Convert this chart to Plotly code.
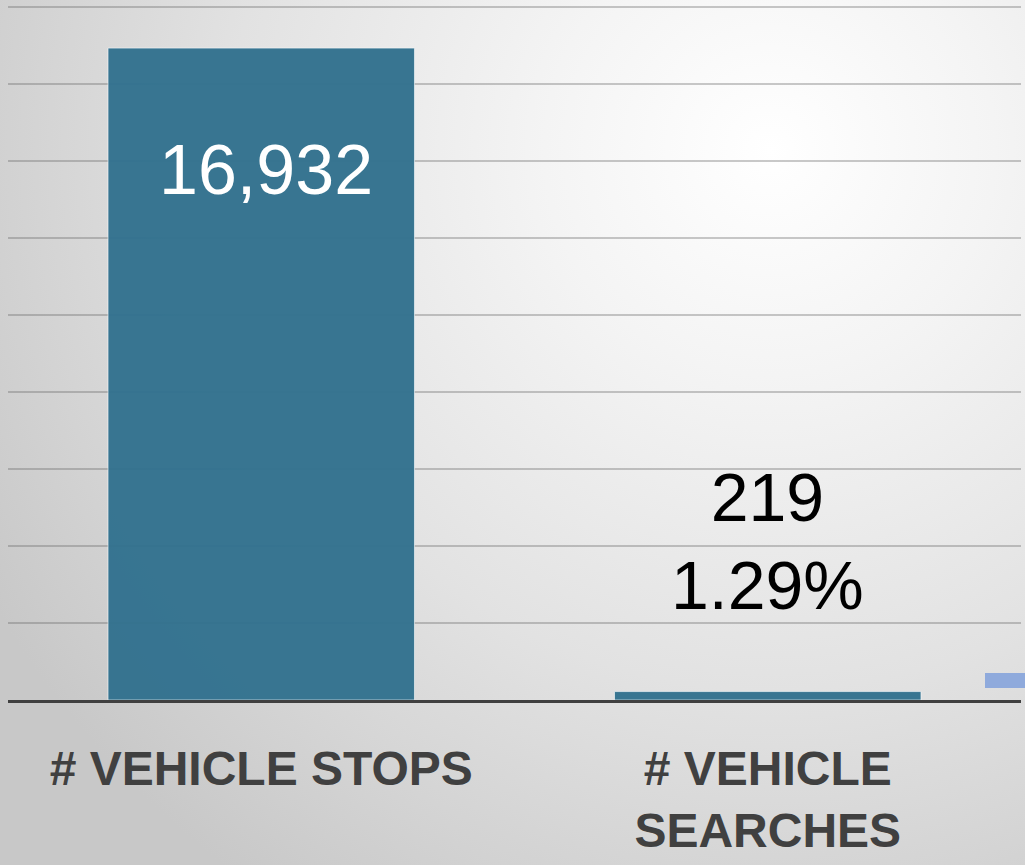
import base64
import plotly.graph_objects as go

categories = ["# VEHICLE STOPS", "# VEHICLE<br>SEARCHES"]
values = [16932, 219]
value_labels = ["16,932", "219"]

W, H = 1025, 865
ML, MR, MT, MB = 8, 4, 0, 165

svg = f'''<svg xmlns="http://www.w3.org/2000/svg" width="{W}" height="{H}" viewBox="0 0 {W} {H}">
<defs><radialGradient id="g" cx="770" cy="150" r="900" gradientUnits="userSpaceOnUse">
<stop offset="0" stop-color="#ffffff"/><stop offset="0.25" stop-color="#f4f4f4"/>
<stop offset="0.6" stop-color="#e2e2e2"/><stop offset="1" stop-color="#c8c8c8"/></radialGradient></defs>
<rect width="{W}" height="{H}" fill="url(#g)"/></svg>'''
src = "data:image/svg+xml;base64," + base64.b64encode(svg.encode()).decode()

pw = W - ML - MR
ph = H - MT - MB

fig = go.Figure()
fig.add_trace(go.Bar(
    x=categories, y=values, width=0.605,
    marker=dict(color="#33728f", line=dict(color="rgba(255,255,255,0.6)", width=1)),
    opacity=0.97, hoverinfo="skip"))

pct = values[1] / values[0] * 100
fig.add_annotation(x=categories[0], y=values[0], text=value_labels[0], showarrow=False,
                   yanchor="top", yshift=-81, xshift=5,
                   font=dict(family="Liberation Sans, Arial", size=70, color="white"))
fig.add_annotation(x=categories[1], y=values[1], text=f"{value_labels[1]}<br>{pct:.2f}%", showarrow=False,
                   yanchor="bottom", yshift=67,
                   font=dict(family="Liberation Sans, Arial", size=68, color="black"))

fig.add_shape(type="rect", xref="paper", yref="paper",
              x0=(985 - ML) / pw, x1=(1030 - ML) / pw,
              y0=(H - MB - 688) / ph, y1=(H - MB - 673) / ph,
              fillcolor="#8faadc", line=dict(width=0), layer="above")

fig.add_layout_image(dict(source=src, xref="paper", yref="paper",
                          x=-ML / pw, y=1 + MT / ph, sizex=W / pw, sizey=H / ph,
                          xanchor="left", yanchor="top", sizing="stretch", layer="below"))

fig.update_layout(
    width=W, height=H, margin=dict(l=ML, r=MR, t=MT, b=MB, pad=0),
    paper_bgcolor="rgba(0,0,0,0)", plot_bgcolor="rgba(0,0,0,0)",
    showlegend=False,
    xaxis=dict(range=[-0.5, 1.5], showline=True, linecolor="#404040", linewidth=3,
               ticks="outside", ticklen=24, tickcolor="rgba(0,0,0,0)", automargin=False,
               tickfont=dict(family="Liberation Sans, Arial", size=48, color="#404040", weight="bold"),
               showgrid=False, fixedrange=True),
    yaxis=dict(range=[0, 18182], dtick=2000, showticklabels=False, showgrid=True, automargin=False,
               gridcolor="rgba(100,100,100,0.35)", gridwidth=2, zeroline=False, fixedrange=True),
)
fig.write_html("out.html", config={"displayModeBar": False},
               post_script="document.body.style.margin='0';document.body.style.padding='0';")
